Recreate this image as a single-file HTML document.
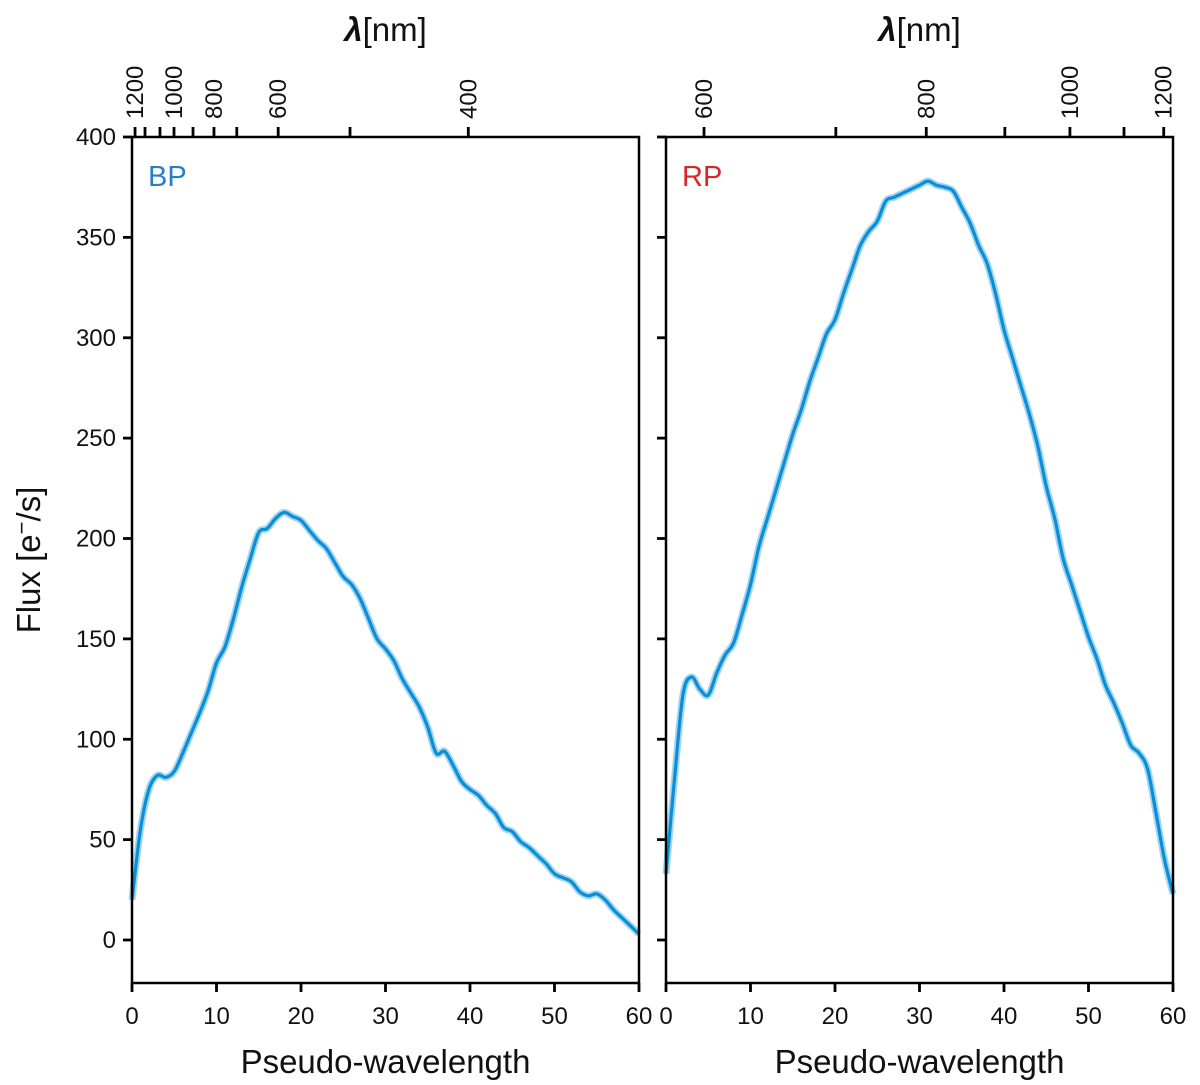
<!DOCTYPE html>
<html><head><meta charset="utf-8"><style>
html,body{margin:0;padding:0;background:#fff;}
svg{display:block;font-family:"Liberation Sans",sans-serif;}
</style></head><body>
<svg id="chart" width="1200" height="1085" viewBox="0 0 1200 1085"></svg>
<script>
const pseudoX = [0,1,2,3,4,5,6,7,8,9,10,11,12,13,14,15,16,17,18,19,20,21,22,23,24,25,26,27,28,29,30,31,32,33,34,35,36,37,38,39,40,41,42,43,44,45,46,47,48,49,50,51,52,53,54,55,56,57,58,59,60];
const bpFlux = [20,55,75,82,81,84,93,103,113,124,138,146,160,176,190,203,205,210,213,211,209,204,199,195,188,181,177,170,160,150,145,139,130,123,116,106,93,94,87,79,75,72,67,63,56,54,49,46,42,38,33,31,29,24,22,23,20,15,11,7,3];
const rpFlux = [33,80,122,131,125,122,133,142,148,162,177,196,210,224,238,252,264,278,290,302,309,322,334,346,353,358,368,370,372,374,376,378,376,375,373,365,357,346,337,322,304,290,276,262,246,226,210,190,177,164,151,140,127,118,108,97,93,85,63,40,23];
const yTicks = [0,50,100,150,200,250,300,350,400];
const xTicks = [0,10,20,30,40,50,60];
const bpTopPos = [0.36,1.54,3.31,4.97,7.22,9.7,12.4,17.3,25.8,39.8];
const bpTopLab = ["1200","","","1000","","800","","600","","400"];
const rpTopPos = [4.5,20.1,30.8,40.1,47.8,54.2,58.9];
const rpTopLab = ["600","","800","","1000","","1200"];

const svgEl = document.getElementById('chart');
const NS = 'http://www.w3.org/2000/svg';
function mk(tag, attrs, parent){const e=document.createElementNS(NS,tag);for(const k in attrs)e.setAttribute(k,attrs[k]);(parent||svgEl).appendChild(e);return e;}
const plotTop=137, plotBot=983;
function yS(v){return 940 - v*(940-plotTop)/400;}
function smooth(pts){let d='M'+pts[0][0]+','+pts[0][1];for(let i=0;i<pts.length-1;i++){const p0=pts[Math.max(0,i-1)],p1=pts[i],p2=pts[i+1],p3=pts[Math.min(pts.length-1,i+2)];const c1x=p1[0]+(p2[0]-p0[0])/6,c1y=p1[1]+(p2[1]-p0[1])/6,c2x=p2[0]-(p3[0]-p1[0])/6,c2y=p2[1]-(p3[1]-p1[1])/6;d+=' C'+c1x.toFixed(2)+','+c1y.toFixed(2)+' '+c2x.toFixed(2)+','+c2y.toFixed(2)+' '+p2[0].toFixed(2)+','+p2[1].toFixed(2);}return d;}

function panel(x0, x1, name, label, labelColor, flux, topPos, topLab, showY){
  const xS = v => x0 + v*(x1-x0)/60;
  const g = mk('g',{});
  
  
  const pts = pseudoX.map((x,i)=>[xS(x), yS(flux[i])]);
  const band = mk('path',{d:smooth(pts),fill:'none',stroke:'#7cc3ec',"stroke-width":7,"stroke-linejoin":"round",opacity:0.7},g);
  
  
  const line = mk('path',{d:smooth(pts),fill:'none',stroke:'#0a8ed6',"stroke-width":3.2,"stroke-linejoin":"round"},g);
  
  
  const fr = mk('rect',{x:x0,y:plotTop,width:x1-x0,height:plotBot-plotTop,fill:'none',stroke:'#000',"stroke-width":2.5},g);
  
  
  yTicks.forEach(v=>{
    const t = mk('line',{x1:x0-9,x2:x0,y1:yS(v),y2:yS(v),stroke:'#000',"stroke-width":2.8},g);
    
    
    if(showY){
      const tx = mk('text',{x:x0-16,y:yS(v)+8,"text-anchor":"end","font-size":24,fill:'#111'},g);
      tx.textContent = v;
      
      
    }
  });
  xTicks.forEach(v=>{
    const t = mk('line',{x1:xS(v),x2:xS(v),y1:plotBot,y2:plotBot+9,stroke:'#000',"stroke-width":2.8},g);
    
    
    const tx = mk('text',{x:xS(v),y:plotBot+41,"text-anchor":"middle","font-size":24,fill:'#111'},g);
    tx.textContent = v;
    
    
  });
  const xl = mk('text',{x:(x0+x1)/2,y:1073,"text-anchor":"middle","font-size":33,fill:'#111'},g);
  xl.textContent='Pseudo-wavelength';
  
  
  topPos.forEach((v,i)=>{
    const t = mk('line',{x1:xS(v),x2:xS(v),y1:plotTop-10,y2:plotTop,stroke:'#000',"stroke-width":2.8},g);
    
    
    if(topLab[i]){
      const tx = mk('text',{x:0,y:0,"text-anchor":"start","font-size":24,fill:'#111',transform:'translate('+(xS(v)+8)+','+(plotTop-18)+') rotate(-90)'},g);
      tx.textContent = topLab[i];
      
      
    }
  });
  const tl = mk('text',{x:(x0+x1)/2,y:41,"text-anchor":"middle","font-size":33,fill:'#111'},g);
  const lam = mk('tspan',{"font-style":"italic","font-weight":"bold"},tl);
  lam.textContent='λ';
  const nm = mk('tspan',{},tl);
  nm.textContent='[nm]';
  
  
  const lb = mk('text',{x:x0+16,y:plotTop+49,"font-size":29,fill:labelColor},g);
  lb.textContent = label;
  
  
}
panel(132, 639, 'bp', 'BP', '#2a7fc4', bpFlux, bpTopPos, bpTopLab, true);
panel(666, 1173, 'rp', 'RP', '#d62728', rpFlux, rpTopPos, rpTopLab, false);
const yl = mk('text',{x:0,y:0,"text-anchor":"middle","font-size":33,fill:'#111',transform:'translate(40,560) rotate(-90)'});
const t1 = mk('tspan',{},yl); t1.textContent='Flux [e';
const t2 = mk('tspan',{dy:-11,"font-size":22},yl); t2.textContent='−';
const t3 = mk('tspan',{dy:11},yl); t3.textContent='/s]';


</script>
</body></html>
